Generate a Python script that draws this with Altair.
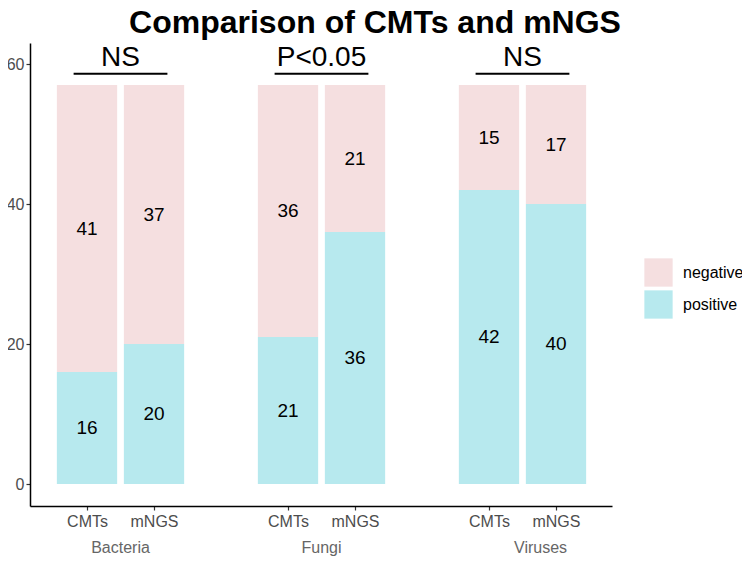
import altair as alt
import pandas as pd

# ---- data ----
groups = ["Bacteria", "Bacteria", "Fungi", "Fungi", "Viruses", "Viruses"]
methods = ["CMTs", "mNGS", "CMTs", "mNGS", "CMTs", "mNGS"]
x_pos = [1, 2, 4, 5, 7, 8]
positive = [16, 20, 21, 36, 42, 40]
negative = [41, 37, 36, 21, 15, 17]

group_names = ["Bacteria", "Fungi", "Viruses"]
group_label_x = [1.5, 4.5, 7.77]
sig_labels = ["NS", "P<0.05", "NS"]
sig_center = [1.5, 4.5, 7.5]
sig_y = 58.6
sig_text_y = 60.8

status = ["negative", "positive"]
colors = ["#F5DFE0", "#B7E9EE"]

FONT = "Liberation Sans"

# ---- tables ----
rows = []
for g, m, p, pos, neg in zip(groups, methods, x_pos, positive, negative):
    rows.append(dict(group=g, method=m, pos=p, status="positive", n=pos,
                     y0=0, y1=pos, x0=p - 0.45, x1=p + 0.45, ym=pos / 2))
    rows.append(dict(group=g, method=m, pos=p, status="negative", n=neg,
                     y0=pos, y1=pos + neg, x0=p - 0.45, x1=p + 0.45, ym=pos + neg / 2))
bars_df = pd.DataFrame(rows)

sig_df = pd.DataFrame(dict(label=sig_labels, xc=sig_center,
                           xa=[c - 0.7 for c in sig_center],
                           xb=[c + 0.7 for c in sig_center],
                           y=[sig_y] * 3, ty=[sig_text_y] * 3))
grp_df = pd.DataFrame(dict(name=group_names, x=group_label_x))

W, H = 582, 463
xscale = alt.Scale(domain=[0.149, 8.836], nice=False, zero=False)
yscale = alt.Scale(domain=[-3.14, 63.0], nice=False, zero=False)

base = alt.Chart(bars_df)

bars = base.mark_rect().encode(
    x=alt.X("x0:Q", scale=xscale,
            axis=alt.Axis(values=x_pos, title=None, grid=False,
                          labelExpr="datum.value % 3 == 1 ? 'CMTs' : 'mNGS'",
                          labelFont=FONT, labelFontSize=16, labelColor="#4D4D4D",
                          tickColor="#333333", tickSize=4, labelPadding=3,
                          domainColor="black", domainWidth=1.5, tickWidth=1.2)),
    x2="x1:Q",
    y=alt.Y("y0:Q", scale=yscale,
            axis=alt.Axis(values=[0, 20, 40, 60], title=None, grid=False,
                          labelFont=FONT, labelFontSize=16, labelColor="#4D4D4D",
                          tickColor="#333333", tickSize=4, labelPadding=2,
                          domainColor="black", domainWidth=1.5, tickWidth=1.2)),
    y2="y1:Q",
    color=alt.Color("status:N", scale=alt.Scale(domain=status, range=colors),
                    legend=alt.Legend(title=None, orient="none", legendX=614, legendY=215,
                                      symbolType="square", symbolSize=800,
                                      symbolStrokeWidth=0, labelFont=FONT,
                                      labelFontSize=16, labelColor="black",
                                      labelOffset=10, rowPadding=3)),
)

values = base.mark_text(font=FONT, fontSize=19, color="black", baseline="middle").encode(
    x=alt.X("pos:Q", scale=xscale),
    y=alt.Y("ym:Q", scale=yscale),
    text="n:Q",
)

brackets = alt.Chart(sig_df).mark_rule(color="black", strokeWidth=2).encode(
    x=alt.X("xa:Q", scale=xscale), x2="xb:Q",
    y=alt.Y("y:Q", scale=yscale),
)
sig_text = alt.Chart(sig_df).mark_text(font=FONT, fontSize=28, color="black",
                                       baseline="middle").encode(
    x=alt.X("xc:Q", scale=xscale),
    y=alt.Y("ty:Q", scale=yscale),
    text="label:N",
)

grp_text = alt.Chart(grp_df).mark_text(font=FONT, fontSize=16, color="#666666",
                                       baseline="middle").encode(
    x=alt.X("x:Q", scale=xscale),
    y=alt.value(H + 42),
    text="name:N",
)

chart = alt.layer(bars, values, brackets, sig_text, grp_text).properties(
    width=W, height=H,
    autosize="none",
    padding={"left": 22, "top": 35, "right": 130, "bottom": 56},
    title=alt.TitleParams("Comparison of CMTs and mNGS", font=FONT, fontSize=32,
                          fontWeight="bold", color="black", anchor="middle",
                          frame="group", dx=54, offset=3),
).configure_view(stroke=None).configure_axis(labelFlush=False)

chart.save("out.html", embed_options={"renderer": "svg", "actions": False})
